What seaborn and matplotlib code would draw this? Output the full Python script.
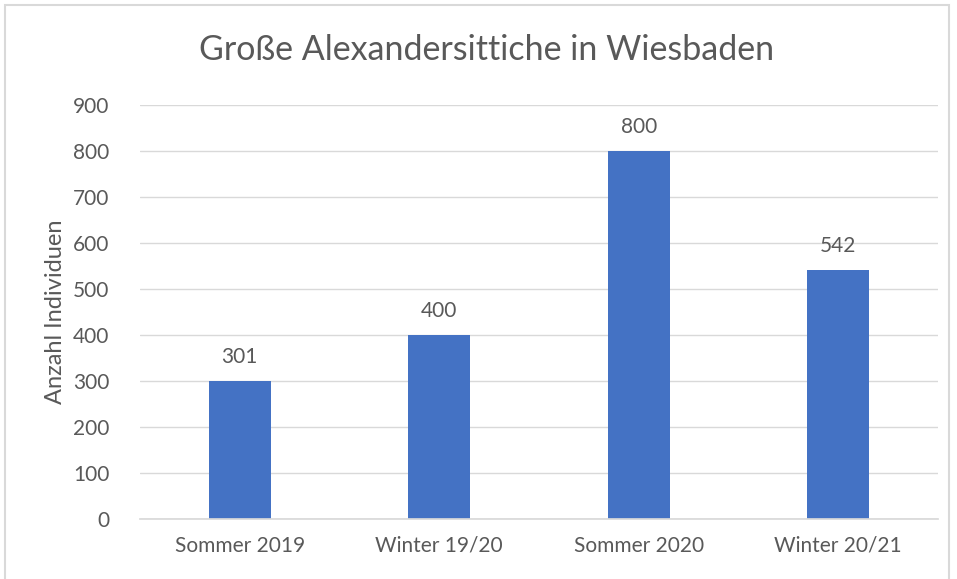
import matplotlib
matplotlib.use("Agg")
import matplotlib.pyplot as plt
import seaborn as sns
import pandas as pd
from matplotlib.patches import Rectangle

categories = ["Sommer 2019", "Winter 19/20", "Sommer 2020", "Winter 20/21"]
values = [301, 400, 800, 542]
title = "Große Alexandersittiche in Wiesbaden"
ylabel = "Anzahl Individuen"

sns.set_theme(style="white")
plt.rcParams["font.family"] = ["Lato", "DejaVu Sans"]

df = pd.DataFrame({"cat": categories, "val": values})
text_c = "#595959"

fig = plt.figure(figsize=(9.57, 5.79), dpi=100)
ax = fig.add_axes([140/957, 1-519/579, (938-140)/957, (519-105)/579])
sns.barplot(data=df, x="cat", y="val", color="#4472C4", width=0.31,
            saturation=1, ax=ax, edgecolor="none")
ax.set_ylim(0, 900)
ax.set_yticks(range(0, 901, 100))
ax.grid(axis="y", color="#D9D9D9", linewidth=1)
ax.set_axisbelow(True)
for s in ["top", "right", "left"]:
    ax.spines[s].set_visible(False)
ax.spines["bottom"].set_color("#D9D9D9")
ax.tick_params(axis="both", length=0, labelsize=15, colors=text_c)
ax.tick_params(axis="y", pad=22)
ax.tick_params(axis="x", pad=12)
ax.set_xlabel("")
ax.set_ylabel(ylabel, fontsize=17, color=text_c, labelpad=5)
for c in ax.containers:
    ax.bar_label(c, fmt="%d", padding=10, fontsize=15, color=text_c)
fig.text(487/957, 1-50/579, title, ha="center", va="center",
         fontsize=24.5, color=text_c)
fig.patches.append(Rectangle((5/957, -0.05), (949-5)/957, 1.05-5/579,
                             transform=fig.transFigure, fill=False,
                             edgecolor="#D9D9D9", linewidth=1.5))
fig.savefig("out.png", dpi=100)
